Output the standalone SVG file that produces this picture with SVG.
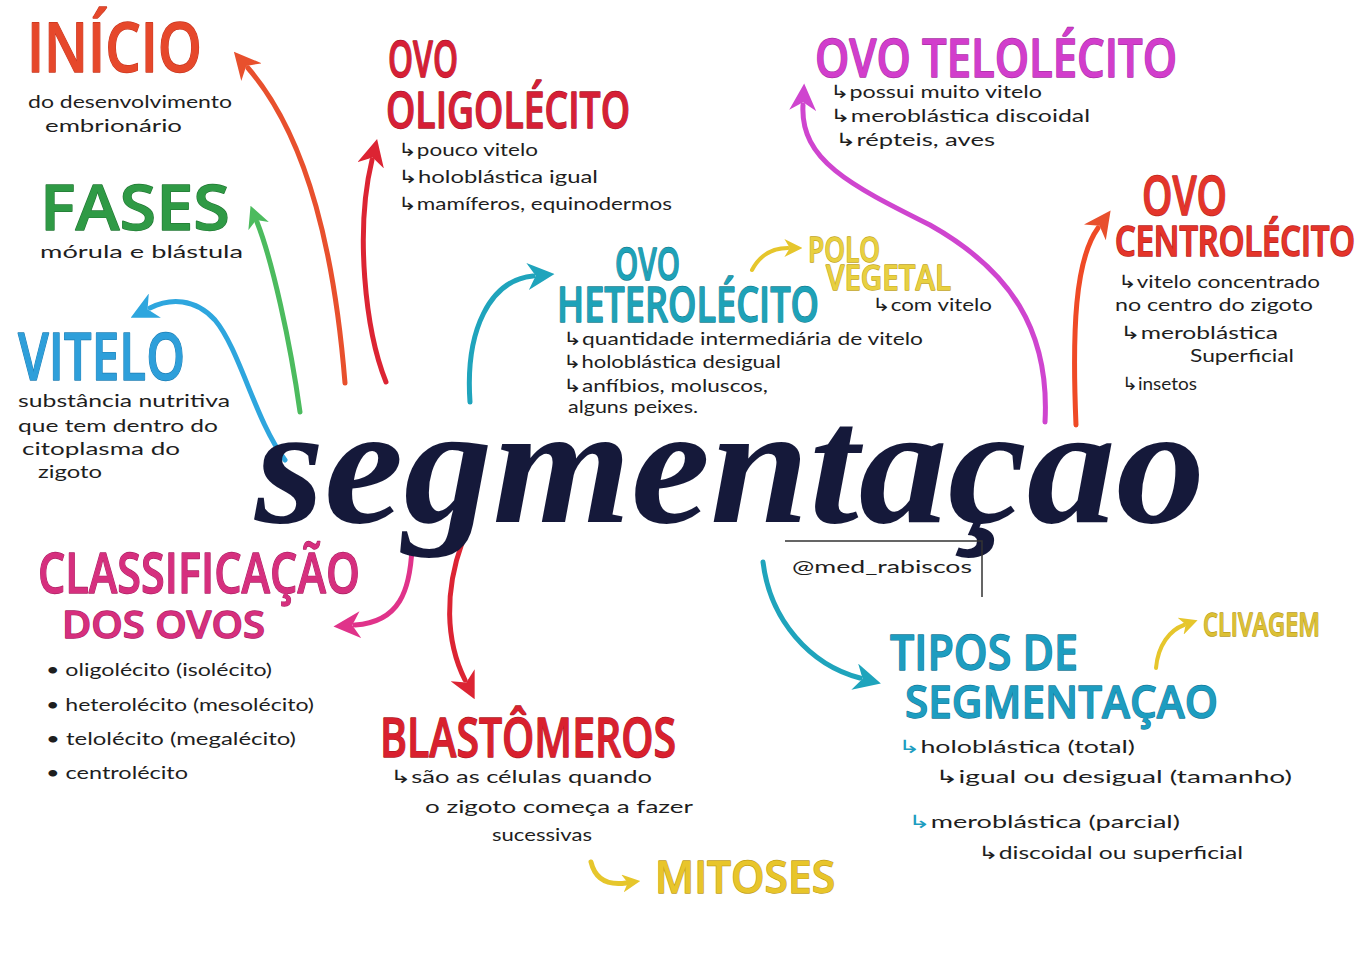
<svg xmlns="http://www.w3.org/2000/svg" width="1371" height="960" viewBox="0 0 1371 960">
<defs>
<style>
.h{font-family:"Open Sans","Liberation Sans",sans-serif;font-weight:600;stroke-width:1.3;paint-order:stroke;stroke-linejoin:round}
.b{font-family:"Lato","Noto Sans","DejaVu Sans",sans-serif;font-size:18px;fill:#1e1e1e}
.c{fill:none;stroke-linecap:round;stroke-linejoin:round}
.big{font-family:"Liberation Serif",serif;font-style:italic;font-weight:bold;font-size:170px;fill:#15193a}
</style>
<marker id="mOr" viewBox="0 0 10 10" refX="2" refY="5" markerUnits="userSpaceOnUse" markerWidth="27" markerHeight="27" orient="auto"><path d="M0,0 L10,5 L0,10 L3,5 z" fill="#e8502d"/></marker>
<marker id="mRd" viewBox="0 0 10 10" refX="2" refY="5" markerUnits="userSpaceOnUse" markerWidth="27" markerHeight="27" orient="auto"><path d="M0,0 L10,5 L0,10 L3,5 z" fill="#dc2433"/></marker>
<marker id="mGr" viewBox="0 0 10 10" refX="2" refY="5" markerUnits="userSpaceOnUse" markerWidth="22" markerHeight="22" orient="auto"><path d="M0,0 L10,5 L0,10 L3,5 z" fill="#4cbb5e"/></marker>
<marker id="mBl" viewBox="0 0 10 10" refX="2" refY="5" markerUnits="userSpaceOnUse" markerWidth="27" markerHeight="27" orient="auto"><path d="M0,0 L10,5 L0,10 L3,5 z" fill="#2ea6de"/></marker>
<marker id="mTl" viewBox="0 0 10 10" refX="2" refY="5" markerUnits="userSpaceOnUse" markerWidth="27" markerHeight="27" orient="auto"><path d="M0,0 L10,5 L0,10 L3,5 z" fill="#1fa4bc"/></marker>
<marker id="mMg" viewBox="0 0 10 10" refX="2" refY="5" markerUnits="userSpaceOnUse" markerWidth="27" markerHeight="27" orient="auto"><path d="M0,0 L10,5 L0,10 L3,5 z" fill="#cf45cf"/></marker>
<marker id="mPk" viewBox="0 0 10 10" refX="2" refY="5" markerUnits="userSpaceOnUse" markerWidth="27" markerHeight="27" orient="auto"><path d="M0,0 L10,5 L0,10 L3,5 z" fill="#e0338a"/></marker>
<marker id="mYl" viewBox="0 0 10 10" refX="2" refY="5" markerUnits="userSpaceOnUse" markerWidth="18" markerHeight="18" orient="auto"><path d="M0,0 L10,5 L0,10 L3,5 z" fill="#e6c62c"/></marker>
</defs>
<rect width="1371" height="960" fill="#ffffff"/>

<g id="connectors">
<path class="c" d="M345,383 C335,260 310,140 248,68" stroke="#e8502d" stroke-width="5" marker-end="url(#mOr)"/>
<path class="c" d="M386,382 C365,330 355,230 372,160" stroke="#dc2433" stroke-width="5" marker-end="url(#mRd)"/>
<path class="c" d="M300,412 C290,340 272,260 257,222" stroke="#4cbb5e" stroke-width="5" marker-end="url(#mGr)"/>
<path class="c" d="M285,460 C255,420 240,350 215,320 C195,298 170,298 150,308" stroke="#2ea6de" stroke-width="5" marker-end="url(#mBl)"/>
<path class="c" d="M470,402 C465,330 490,280 533,276" stroke="#1fa4bc" stroke-width="5" marker-end="url(#mTl)"/>
<path class="c" d="M752,270 C760,255 772,248 788,248" stroke="#e6c62c" stroke-width="4" marker-end="url(#mYl)"/>
<path class="c" d="M1045,422 C1050,330 1010,270 930,225 C850,185 800,160 803,105" stroke="#cf45cf" stroke-width="5" marker-end="url(#mMg)"/>
<path class="c" d="M1076,425 C1072,330 1075,260 1098,228" stroke="#ef4a26" stroke-width="5" marker-end="url(#mOr)"/>
<path class="c" d="M412,548 C410,590 400,622 355,625" stroke="#e0338a" stroke-width="5" marker-end="url(#mPk)"/>
<path class="c" d="M462,543 C445,590 445,640 465,680" stroke="#dc2433" stroke-width="5" marker-end="url(#mRd)"/>
<path class="c" d="M763,562 C770,620 810,665 860,678" stroke="#1fa4bc" stroke-width="5" marker-end="url(#mTl)"/>
<path class="c" d="M1156,668 C1158,645 1170,630 1184,625" stroke="#e6c62c" stroke-width="4" marker-end="url(#mYl)"/>
<path class="c" d="M591,862 Q597,887 626,883" stroke="#e6c62c" stroke-width="5" marker-end="url(#mYl)"/>
</g>

<g id="center">
<text class="big" x="255" y="522" textLength="950" lengthAdjust="spacingAndGlyphs">segmentaçao</text>
</g>

<g id="credit">
<path d="M785,541 L982,541 L982,597" fill="none" stroke="#333" stroke-width="1.5"/>
<text class="b" x="792" y="573" font-size="22" textLength="180" lengthAdjust="spacingAndGlyphs">@med_rabiscos</text>
</g>

<g id="inicio">
<text class="h" x="27" y="72" font-size="68" fill="#e6482b" stroke="#c8361f" textLength="175" lengthAdjust="spacingAndGlyphs">INÍCIO</text>
<text class="b" x="28" y="108" textLength="204" lengthAdjust="spacingAndGlyphs">do desenvolvimento</text>
<text class="b" x="45" y="132" textLength="137" lengthAdjust="spacingAndGlyphs">embrionário</text>
</g>

<g id="ovo-oligolecito">
<text class="h" x="388" y="77" font-size="50" fill="#d61f36" stroke="#a8162a" textLength="70" lengthAdjust="spacingAndGlyphs">OVO</text>
<text class="h" x="386" y="128" font-size="50" fill="#d61f36" stroke="#a8162a" textLength="244" lengthAdjust="spacingAndGlyphs">OLIGOLÉCITO</text>
<text class="b" x="398" y="156" textLength="140" lengthAdjust="spacingAndGlyphs">↳pouco vitelo</text>
<text class="b" x="398" y="183" textLength="200" lengthAdjust="spacingAndGlyphs">↳holoblástica igual</text>
<text class="b" x="398" y="210" textLength="274" lengthAdjust="spacingAndGlyphs">↳mamíferos, equinodermos</text>
</g>

<g id="fases">
<text class="h" x="40" y="230" font-size="64" fill="#2f9a45" stroke="#237a35" textLength="190" lengthAdjust="spacingAndGlyphs">FASES</text>
<text class="b" x="40" y="258" textLength="203" lengthAdjust="spacingAndGlyphs">mórula e blástula</text>
</g>

<g id="vitelo">
<text class="h" x="18" y="380" font-size="66" fill="#2e9fda" stroke="#1f7fb5" textLength="167" lengthAdjust="spacingAndGlyphs">VITELO</text>
<text class="b" x="18" y="407" textLength="212" lengthAdjust="spacingAndGlyphs">substância nutritiva</text>
<text class="b" x="18" y="432" textLength="200" lengthAdjust="spacingAndGlyphs">que tem dentro do</text>
<text class="b" x="22" y="455" textLength="158" lengthAdjust="spacingAndGlyphs">citoplasma do</text>
<text class="b" x="38" y="478" textLength="64" lengthAdjust="spacingAndGlyphs">zigoto</text>
</g>

<g id="ovo-heterolecito">
<text class="h" x="615" y="280" font-size="46" fill="#1ea2b8" stroke="#157f92" textLength="65" lengthAdjust="spacingAndGlyphs">OVO</text>
<text class="h" x="557" y="322" font-size="48" fill="#1ea2b8" stroke="#157f92" textLength="262" lengthAdjust="spacingAndGlyphs">HETEROLÉCITO</text>
<text class="b" x="563" y="345" textLength="360" lengthAdjust="spacingAndGlyphs">↳quantidade intermediária de vitelo</text>
<text class="b" x="563" y="368" textLength="218" lengthAdjust="spacingAndGlyphs">↳holoblástica desigual</text>
<text class="b" x="563" y="392" textLength="205" lengthAdjust="spacingAndGlyphs">↳anfíbios, moluscos,</text>
<text class="b" x="568" y="413" textLength="130" lengthAdjust="spacingAndGlyphs">alguns peixes.</text>
</g>

<g id="polo-vegetal">
<text class="h" x="808" y="262" font-size="35" fill="#e8d040" stroke="#c2a420" textLength="72" lengthAdjust="spacingAndGlyphs">POLO</text>
<text class="h" x="826" y="290" font-size="35" fill="#e8d040" stroke="#c2a420" textLength="125" lengthAdjust="spacingAndGlyphs">VEGETAL</text>
<text class="b" x="872" y="311" textLength="120" lengthAdjust="spacingAndGlyphs">↳com vitelo</text>
</g>

<g id="ovo-telolecito">
<text class="h" x="815" y="77" font-size="52" fill="#d23dcc" stroke="#a92ea5" textLength="362" lengthAdjust="spacingAndGlyphs">OVO  TELOLÉCITO</text>
<text class="b" x="830" y="98" textLength="212" lengthAdjust="spacingAndGlyphs">↳possui muito vitelo</text>
<text class="b" x="830" y="122" textLength="260" lengthAdjust="spacingAndGlyphs">↳meroblástica discoidal</text>
<text class="b" x="835" y="146" textLength="160" lengthAdjust="spacingAndGlyphs">↳répteis, aves</text>
</g>

<g id="ovo-centrolecito">
<text class="h" x="1142" y="215" font-size="54" fill="#e4342a" stroke="#b8261e" textLength="85" lengthAdjust="spacingAndGlyphs">OVO</text>
<text class="h" transform="translate(1115,256) scale(1,1.3)" x="0" y="0" font-size="32" fill="#e4342a" stroke="#b8261e" textLength="240" lengthAdjust="spacingAndGlyphs">CENTROLÉCITO</text>
<text class="b" x="1118" y="288" textLength="202" lengthAdjust="spacingAndGlyphs">↳vitelo concentrado</text>
<text class="b" x="1115" y="311" textLength="198" lengthAdjust="spacingAndGlyphs">no centro do zigoto</text>
<text class="b" x="1120" y="339" textLength="158" lengthAdjust="spacingAndGlyphs">↳meroblástica</text>
<text class="b" x="1190" y="362" textLength="104" lengthAdjust="spacingAndGlyphs">Superficial</text>
<text class="b" x="1122" y="390" textLength="75" lengthAdjust="spacingAndGlyphs">↳insetos</text>
</g>

<g id="classificacao">
<text class="h" x="38" y="593" font-size="56" fill="#d62f7e" stroke="#ad2264" textLength="322" lengthAdjust="spacingAndGlyphs">CLASSIFICAÇÃO</text>
<text class="h" x="62" y="638" font-size="38" fill="#d62f7e" stroke="#ad2264" textLength="203" lengthAdjust="spacingAndGlyphs">DOS  OVOS</text>
<text class="b" x="46" y="676" textLength="226" lengthAdjust="spacingAndGlyphs">• oligolécito (isolécito)</text>
<text class="b" x="46" y="711" textLength="268" lengthAdjust="spacingAndGlyphs">• heterolécito (mesolécito)</text>
<text class="b" x="46" y="745" textLength="250" lengthAdjust="spacingAndGlyphs">• telolécito (megalécito)</text>
<text class="b" x="46" y="779" textLength="142" lengthAdjust="spacingAndGlyphs">• centrolécito</text>
</g>

<g id="blastomeros">
<text class="h" x="380" y="757" font-size="54" fill="#d9202e" stroke="#ad1823" textLength="296" lengthAdjust="spacingAndGlyphs">BLASTÔMEROS</text>
<text class="b" x="390" y="783" textLength="262" lengthAdjust="spacingAndGlyphs">↳são as células quando</text>
<text class="b" x="425" y="813" textLength="268" lengthAdjust="spacingAndGlyphs">o zigoto começa a fazer</text>
<text class="b" x="492" y="841" textLength="100" lengthAdjust="spacingAndGlyphs">sucessivas</text>
<text class="h" x="655" y="893" font-size="45" fill="#e8c52a" stroke="#c2a01a" textLength="180" lengthAdjust="spacingAndGlyphs">MITOSES</text>
</g>

<g id="tipos-segmentacao">
<text class="h" x="890" y="670" font-size="48" fill="#1d9dc0" stroke="#15799a" textLength="188" lengthAdjust="spacingAndGlyphs">TIPOS DE</text>
<text class="h" x="905" y="718" font-size="46" fill="#1d9dc0" stroke="#15799a" textLength="313" lengthAdjust="spacingAndGlyphs">SEGMENTAÇAO</text>
<text class="b" x="898" y="753" textLength="237" lengthAdjust="spacingAndGlyphs"><tspan fill="#1d9dc0">↳</tspan>holoblástica (total)</text>
<text class="b" x="935" y="783" textLength="357" lengthAdjust="spacingAndGlyphs">↳igual ou desigual (tamanho)</text>
<text class="b" x="908" y="828" textLength="272" lengthAdjust="spacingAndGlyphs"><tspan fill="#1d9dc0">↳</tspan>meroblástica (parcial)</text>
<text class="b" x="978" y="859" textLength="265" lengthAdjust="spacingAndGlyphs">↳discoidal ou superficial</text>
</g>

<g id="clivagem">
<text class="h" x="1203" y="636" font-size="33" fill="#dcc035" stroke="#b89c1c" textLength="117" lengthAdjust="spacingAndGlyphs">CLIVAGEM</text>
</g>
</svg>
